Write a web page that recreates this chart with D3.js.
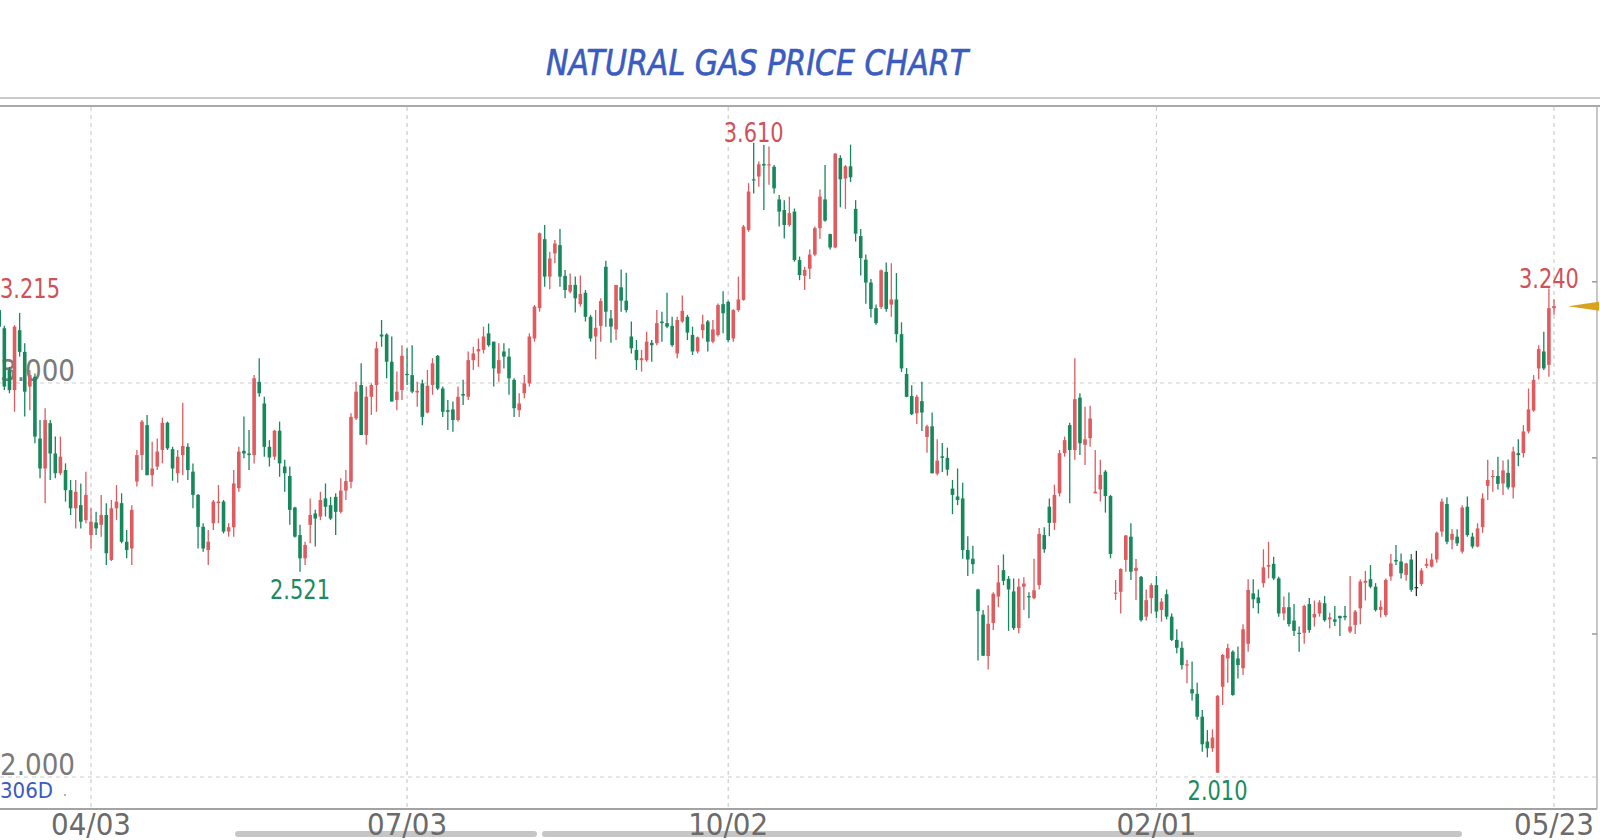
<!DOCTYPE html>
<html><head><meta charset="utf-8">
<script src="https://cdn.jsdelivr.net/npm/d3@7"></script>
<style>
html,body{margin:0;padding:0;background:#fff;overflow:hidden;}
svg{display:block;}
</style></head>
<body>
<svg id="chart" width="1600" height="840"></svg>
<script>
// ---- data: daily candles [open, high, low, close] ----
const ohlc = [
[3.185,3.215,3.134,3.143],[3.139,3.145,2.982,2.991],[3.033,3.041,2.974,2.982],[2.982,3.147,2.927,3.143],
[3.134,3.178,3.067,3.079],[3.079,3.101,2.915,2.978],[2.991,3.033,2.931,3.020],[3.016,3.024,2.847,2.864],
[2.859,2.906,2.758,2.783],[2.783,2.936,2.695,2.906],[2.898,2.906,2.754,2.821],[2.821,2.864,2.758,2.771],
[2.771,2.864,2.766,2.813],[2.779,2.796,2.699,2.728],[2.728,2.754,2.665,2.682],[2.682,2.754,2.631,2.724],
[2.690,2.745,2.631,2.648],[2.652,2.775,2.644,2.716],[2.614,2.682,2.580,2.648],[2.646,2.673,2.614,2.631],
[2.640,2.716,2.610,2.665],[2.665,2.695,2.538,2.568],[2.551,2.703,2.548,2.682],[2.682,2.741,2.652,2.699],
[2.695,2.720,2.593,2.597],[2.597,2.627,2.555,2.576],[2.580,2.690,2.538,2.678],[2.750,2.830,2.737,2.817],
[2.817,2.906,2.779,2.902],[2.893,2.919,2.766,2.766],[2.766,2.851,2.737,2.783],[2.788,2.859,2.779,2.826],
[2.830,2.912,2.796,2.899],[2.899,2.902,2.830,2.834],[2.832,2.838,2.752,2.783],[2.771,2.830,2.747,2.813],
[2.817,2.950,2.766,2.840],[2.838,2.847,2.754,2.779],[2.775,2.796,2.682,2.716],[2.716,2.718,2.580,2.635],
[2.635,2.644,2.572,2.580],[2.576,2.627,2.538,2.597],[2.644,2.703,2.627,2.699],[2.695,2.741,2.644,2.699],
[2.699,2.703,2.618,2.623],[2.623,2.644,2.610,2.634],[2.634,2.779,2.610,2.745],[2.733,2.838,2.724,2.826],
[2.828,2.915,2.809,2.821],[2.821,2.881,2.779,2.817],[2.817,3.020,2.796,3.012],[3.003,3.063,2.965,2.974],
[2.948,2.965,2.813,2.838],[2.838,2.855,2.788,2.811],[2.813,2.881,2.805,2.879],[2.879,2.902,2.762,2.796],
[2.788,2.805,2.724,2.771],[2.764,2.788,2.640,2.678],[2.684,2.686,2.608,2.610],[2.614,2.640,2.521,2.555],
[2.555,2.597,2.538,2.589],[2.640,2.707,2.593,2.665],[2.669,2.678,2.585,2.656],[2.661,2.724,2.652,2.703],
[2.707,2.745,2.661,2.686],[2.690,2.711,2.652,2.656],[2.711,2.720,2.614,2.673],[2.673,2.758,2.669,2.727],
[2.727,2.779,2.703,2.751],[2.749,2.923,2.733,2.914],[2.910,3.003,2.906,2.978],[2.995,3.050,2.868,2.868],
[2.868,2.991,2.843,2.965],[2.965,2.999,2.919,2.995],[2.995,3.105,2.927,3.088],[3.123,3.160,3.092,3.118],
[3.123,3.126,3.012,3.054],[3.054,3.118,2.953,2.953],[2.957,3.029,2.931,2.978],[2.982,3.096,2.957,3.069],
[3.023,3.088,2.995,3.020],[3.020,3.096,2.974,2.978],[2.976,3.003,2.940,2.980],[2.999,3.008,2.893,2.914],
[2.925,3.033,2.923,2.993],[2.995,3.063,2.970,3.050],[3.069,3.071,2.982,2.986],[2.986,2.991,2.914,2.927],
[2.931,2.957,2.881,2.927],[2.933,2.953,2.876,2.906],[2.906,2.991,2.902,2.965],[2.972,3.008,2.944,2.968],
[2.965,3.080,2.957,3.058],[3.058,3.092,3.033,3.075],[3.080,3.113,3.041,3.086],[3.084,3.143,3.075,3.118],
[3.126,3.151,3.092,3.096],[3.105,3.105,2.991,3.037],[3.024,3.101,3.003,3.058],[3.080,3.101,3.037,3.067],
[3.067,3.088,2.970,3.012],[3.008,3.012,2.914,2.936],[2.931,2.974,2.914,2.948],[2.974,3.020,2.961,2.999],
[2.999,3.126,2.991,3.118],[3.113,3.198,3.105,3.194],[3.190,3.382,3.181,3.380],[3.365,3.401,3.244,3.270],
[3.270,3.333,3.238,3.316],[3.329,3.363,3.304,3.354],[3.350,3.391,3.244,3.270],[3.272,3.287,3.215,3.236],
[3.232,3.278,3.228,3.249],[3.249,3.270,3.179,3.215],[3.200,3.273,3.194,3.226],[3.229,3.236,3.156,3.168],
[3.168,3.173,3.105,3.113],[3.118,3.185,3.060,3.140],[3.145,3.215,3.105,3.208],[3.295,3.310,3.143,3.181],
[3.164,3.185,3.102,3.143],[3.136,3.249,3.109,3.249],[3.243,3.288,3.181,3.209],[3.209,3.280,3.179,3.185],
[3.118,3.156,3.075,3.088],[3.084,3.109,3.033,3.058],[3.058,3.084,3.029,3.063],[3.058,3.130,3.054,3.105],
[3.102,3.109,3.054,3.096],[3.101,3.185,3.096,3.152],[3.156,3.181,3.105,3.152],[3.152,3.229,3.139,3.143],
[3.145,3.168,3.092,3.096],[3.075,3.168,3.063,3.160],[3.156,3.222,3.153,3.183],[3.168,3.173,3.109,3.128],
[3.122,3.143,3.071,3.080],[3.080,3.118,3.075,3.116],[3.134,3.173,3.113,3.149],[3.156,3.160,3.080,3.105],
[3.105,3.160,3.101,3.136],[3.122,3.202,3.118,3.198],[3.200,3.233,3.126,3.177],[3.206,3.209,3.105,3.109],
[3.113,3.187,3.105,3.185],[3.185,3.270,3.181,3.212],[3.211,3.401,3.209,3.397],[3.388,3.507,3.384,3.486],
[3.517,3.610,3.481,3.514],[3.524,3.562,3.498,3.555],[3.556,3.604,3.439,3.552],[3.552,3.600,3.503,3.555],
[3.549,3.553,3.481,3.494],[3.466,3.477,3.397,3.435],[3.439,3.464,3.367,3.401],[3.401,3.473,3.397,3.431],
[3.435,3.443,3.308,3.312],[3.312,3.321,3.261,3.274],[3.272,3.295,3.236,3.287],[3.290,3.339,3.264,3.326],
[3.326,3.397,3.322,3.393],[3.393,3.491,3.366,3.473],[3.466,3.553,3.409,3.412],[3.378,3.379,3.339,3.344],
[3.344,3.584,3.342,3.582],[3.571,3.578,3.446,3.517],[3.519,3.553,3.442,3.550],[3.550,3.605,3.510,3.522],
[3.442,3.464,3.359,3.379],[3.373,3.391,3.273,3.317],[3.313,3.326,3.201,3.255],[3.255,3.264,3.166,3.188],
[3.190,3.199,3.148,3.152],[3.193,3.288,3.188,3.286],[3.282,3.306,3.181,3.188],[3.199,3.304,3.168,3.212],
[3.212,3.279,3.103,3.124],[3.124,3.154,3.028,3.037],[3.023,3.038,2.964,2.965],[2.967,2.994,2.919,2.921],
[2.923,2.970,2.896,2.965],[2.954,3.003,2.878,2.925],[2.863,2.894,2.823,2.890],[2.890,2.925,2.770,2.771],
[2.770,2.857,2.765,2.803],[2.814,2.848,2.774,2.810],[2.810,2.836,2.765,2.780],[2.732,2.754,2.667,2.716],
[2.712,2.783,2.690,2.703],[2.707,2.747,2.554,2.576],[2.576,2.611,2.510,2.552],[2.554,2.587,2.516,2.540],
[2.476,2.478,2.296,2.421],[2.412,2.424,2.307,2.308],[2.307,2.436,2.273,2.389],[2.391,2.469,2.373,2.465],
[2.458,2.538,2.431,2.494],[2.525,2.565,2.487,2.498],[2.503,2.510,2.371,2.476],[2.471,2.504,2.373,2.378],
[2.378,2.504,2.365,2.483],[2.483,2.507,2.424,2.491],[2.459,2.469,2.403,2.457],[2.454,2.554,2.451,2.474],
[2.487,2.632,2.476,2.617],[2.614,2.634,2.569,2.578],[2.686,2.707,2.611,2.645],[2.645,2.742,2.627,2.716],
[2.720,2.830,2.712,2.822],[2.822,2.864,2.813,2.855],[2.893,2.899,2.695,2.830],[2.830,3.063,2.805,2.959],
[2.963,2.974,2.817,2.847],[2.843,2.940,2.792,2.857],[2.860,2.942,2.838,2.910],[2.720,2.830,2.720,2.724],
[2.730,2.805,2.699,2.767],[2.775,2.779,2.671,2.713],[2.713,2.716,2.555,2.566],[2.466,2.500,2.449,2.468],
[2.470,2.530,2.415,2.528],[2.551,2.614,2.521,2.613],[2.610,2.644,2.500,2.521],[2.523,2.553,2.449,2.531],
[2.508,2.510,2.394,2.398],[2.407,2.476,2.397,2.449],[2.454,2.492,2.415,2.487],[2.487,2.510,2.403,2.420],
[2.424,2.454,2.394,2.445],[2.464,2.476,2.400,2.407],[2.407,2.415,2.345,2.348],[2.348,2.375,2.314,2.328],
[2.328,2.344,2.273,2.284],[2.284,2.297,2.238,2.286],[2.223,2.293,2.194,2.212],[2.211,2.239,2.145,2.153],
[2.153,2.170,2.064,2.083],[2.090,2.119,2.050,2.073],[2.073,2.121,2.064,2.100],[2.011,2.208,2.010,2.206],
[2.229,2.312,2.183,2.310],[2.301,2.338,2.239,2.327],[2.318,2.322,2.206,2.208],[2.301,2.331,2.250,2.284],
[2.276,2.388,2.259,2.375],[2.338,2.502,2.318,2.475],[2.466,2.502,2.428,2.451],[2.456,2.476,2.415,2.441],
[2.492,2.578,2.481,2.532],[2.534,2.597,2.504,2.538],[2.541,2.559,2.500,2.504],[2.504,2.508,2.407,2.415],
[2.415,2.458,2.398,2.431],[2.431,2.468,2.382,2.388],[2.397,2.439,2.358,2.371],[2.366,2.382,2.318,2.365],
[2.366,2.437,2.338,2.434],[2.439,2.454,2.366,2.373],[2.405,2.448,2.382,2.414],[2.415,2.449,2.407,2.443],
[2.441,2.459,2.394,2.398],[2.400,2.417,2.377,2.405],[2.400,2.434,2.383,2.394],[2.409,2.409,2.358,2.403],
[2.409,2.434,2.398,2.405],[2.369,2.510,2.365,2.382],[2.386,2.424,2.363,2.420],[2.428,2.502,2.388,2.496],
[2.493,2.523,2.448,2.498],[2.502,2.538,2.479,2.483],[2.483,2.492,2.420,2.424],[2.424,2.448,2.405,2.432],
[2.411,2.504,2.407,2.500],[2.509,2.566,2.498,2.542],[2.551,2.589,2.538,2.547],[2.547,2.567,2.504,2.517],
[2.513,2.544,2.498,2.542],[2.552,2.566,2.470,2.475],[2.482,2.574,2.459,2.482],[2.490,2.530,2.485,2.524],
[2.536,2.555,2.530,2.541],[2.534,2.567,2.532,2.552],[2.552,2.623,2.544,2.620],[2.623,2.707,2.610,2.699],
[2.693,2.710,2.591,2.597],[2.602,2.629,2.578,2.617],[2.610,2.629,2.586,2.593],[2.572,2.690,2.567,2.684],
[2.686,2.712,2.610,2.614],[2.610,2.620,2.580,2.585],[2.585,2.644,2.583,2.631],[2.634,2.720,2.620,2.707],
[2.739,2.805,2.703,2.754],[2.761,2.779,2.724,2.764],[2.764,2.813,2.730,2.744],[2.745,2.803,2.716,2.778],
[2.772,2.806,2.730,2.735],[2.735,2.838,2.707,2.826],[2.822,2.857,2.789,2.817],[2.822,2.893,2.811,2.877],
[2.877,2.986,2.872,2.933],[2.930,3.020,2.927,3.008],[3.037,3.096,3.009,3.086],[3.080,3.130,3.033,3.037],
[3.046,3.240,3.016,3.190],[3.190,3.212,3.173,3.195]
];
const tickIndex  = [18, 80, 143, 227, 305];
const tickLabels = ["04/03", "07/03", "10/02", "02/01", "05/23"];
const yTickValues = [2, 3];
const rightTickValues = [3.257, 2.810, 2.363];
const markIndex = [0, 59, 148, 239, 304];
const markKind  = ["high", "low", "high", "low", "high"];
const periodLabel = "306D";
const chartTitle = "NATURAL GAS PRICE CHART";

// ---- drawing ----
const W = 1600;
const plotTop = 106, plotBottom = 809, plotRight = 1597;
const x = d3.scaleLinear().domain([tickIndex[0], tickIndex[tickIndex.length-1]]).range([91, 1554]);
const y = d3.scaleLinear().domain([2, 3]).range([777, 383]);
const fmt = d3.format(".3f");
const UP = "#de5b60", DOWN = "#17875c", FLAT = "#2b2b2b";
const FONT = "'Liberation Sans Narrow','DejaVu Sans Condensed','Roboto',sans-serif";
const svg = d3.select("#chart");

// title
svg.append("text").attr("x", 546).attr("y", 75)
  .attr("font-family", FONT).attr("font-style", "italic").attr("font-size", 35)
  .attr("fill", "#3a5bc0").attr("stroke", "#3a5bc0").attr("stroke-width", 0.6)
  .attr("textLength", 422).attr("lengthAdjust", "spacingAndGlyphs")
  .text(chartTitle);

// frame lines
svg.append("line").attr("x1", 0).attr("x2", W).attr("y1", 98).attr("y2", 98)
  .attr("stroke", "#cacaca").attr("stroke-width", 2);
svg.append("line").attr("x1", 0).attr("x2", W).attr("y1", plotTop).attr("y2", plotTop)
  .attr("stroke", "#a9a9a9").attr("stroke-width", 2);

// gridlines
svg.append("g").selectAll("line").data(tickIndex).join("line")
  .attr("x1", d => x(d)).attr("x2", d => x(d)).attr("y1", plotTop + 1).attr("y2", plotBottom)
  .attr("stroke", "#cdcdcd").attr("stroke-width", 1.2).attr("stroke-dasharray", "4,4");
svg.append("g").selectAll("line").data(yTickValues).join("line")
  .attr("x1", 0).attr("x2", plotRight).attr("y1", d => y(d)).attr("y2", d => y(d))
  .attr("stroke", "#cdcdcd").attr("stroke-width", 1.2).attr("stroke-dasharray", "4,4");

// y labels (under candles)
svg.append("g").selectAll("text").data(yTickValues).join("text")
  .attr("x", 0).attr("y", d => y(d) - 2)
  .attr("font-family", FONT).attr("font-size", 31).attr("fill", "#7a7a7a")
  .attr("textLength", 75).attr("lengthAdjust", "spacingAndGlyphs")
  .text(d => fmt(d));

// period label
svg.append("text").attr("x", 0).attr("y", 798)
  .attr("font-family", FONT).attr("font-size", 22).attr("fill", "#3a5bc0")
  .attr("textLength", 53).attr("lengthAdjust", "spacingAndGlyphs").text(periodLabel);
svg.append("circle").attr("cx", 65).attr("cy", 795).attr("r", 1).attr("fill", "#999");

// candles
const color = d => d[3] > d[0] ? UP : (d[3] < d[0] ? DOWN : FLAT);
const g = svg.append("g");
g.selectAll("line").data(ohlc).join("line")
  .attr("x1", (d, i) => x(i)).attr("x2", (d, i) => x(i))
  .attr("y1", d => y(d[1])).attr("y2", d => y(d[2]))
  .attr("stroke", color).attr("stroke-width", 1.3);
g.selectAll("rect").data(ohlc).join("rect")
  .attr("x", (d, i) => x(i) - 1.8).attr("width", 3.6)
  .attr("y", d => y(Math.max(d[0], d[3])))
  .attr("height", d => Math.max(1.2, Math.abs(y(d[0]) - y(d[3]))))
  .attr("fill", color);

// high / low marks
markIndex.forEach((idx, k) => {
  const d = ohlc[idx];
  const isHigh = markKind[k] === "high";
  const v = isHigh ? d[1] : d[2];
  const cx = Math.max(30, x(idx));
  svg.append("text").attr("x", cx).attr("y", isHigh ? y(v) - 0.5 : y(v) + 27)
    .attr("text-anchor", "middle").attr("font-family", FONT).attr("font-size", 26)
    .attr("fill", isHigh ? "#cf5258" : "#1d8a5f")
    .attr("textLength", 60).attr("lengthAdjust", "spacingAndGlyphs")
    .text(fmt(v));
});

// axes lines
svg.append("line").attr("x1", 0).attr("x2", plotRight).attr("y1", plotBottom).attr("y2", plotBottom)
  .attr("stroke", "#a3a3a3").attr("stroke-width", 2);
svg.append("line").attr("x1", plotRight).attr("x2", plotRight).attr("y1", plotTop).attr("y2", plotBottom)
  .attr("stroke", "#b5b5b5").attr("stroke-width", 1.5);
svg.append("g").selectAll("line").data(rightTickValues).join("line")
  .attr("x1", plotRight - 5).attr("x2", plotRight).attr("y1", d => y(d)).attr("y2", d => y(d))
  .attr("stroke", "#9a9a9a").attr("stroke-width", 1.5);

// last price marker
const last = ohlc[ohlc.length - 1][3];
const ly = y(last);
svg.append("path")
  .attr("d", `M1568,${ly} L1599,${ly - 4.5} L1599,${ly + 4.5} Z`)
  .attr("fill", "#d9a21f");

// scrollbar
svg.append("rect").attr("x", 235).attr("y", 831).attr("width", 302).attr("height", 6).attr("rx", 3).attr("fill", "#c6c6c6");
svg.append("rect").attr("x", 542).attr("y", 831).attr("width", 920).attr("height", 6).attr("rx", 3).attr("fill", "#c6c6c6");

// x labels
svg.append("g").selectAll("text").data(tickIndex).join("text")
  .attr("x", d => x(d)).attr("y", 835).attr("text-anchor", "middle")
  .attr("font-family", FONT).attr("font-size", 31).attr("fill", "#6b6b6b")
  .attr("textLength", 80).attr("lengthAdjust", "spacingAndGlyphs")
  .text((d, i) => tickLabels[i]);
</script>
</body></html>
